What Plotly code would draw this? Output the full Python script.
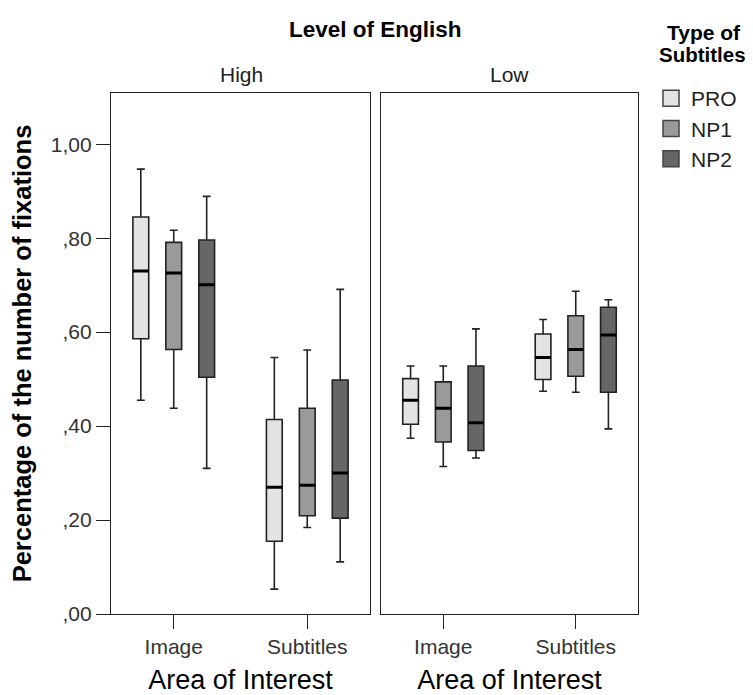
import plotly.graph_objects as go

# ---------------- data ----------------
areas = ["Image", "Subtitles"]
levels = ["High", "Low"]
subtitle_types = ["PRO", "NP1", "NP2"]

# five-number summaries per level, per subtitle type, for [Image, Subtitles]
high_lower = {"PRO": [0.455, 0.053], "NP1": [0.438, 0.184], "NP2": [0.310, 0.111]}
high_q1 = {"PRO": [0.586, 0.155], "NP1": [0.563, 0.209], "NP2": [0.504, 0.204]}
high_median = {"PRO": [0.730, 0.270], "NP1": [0.726, 0.274], "NP2": [0.701, 0.300]}
high_q3 = {"PRO": [0.845, 0.414], "NP1": [0.791, 0.438], "NP2": [0.796, 0.498]}
high_upper = {"PRO": [0.947, 0.546], "NP1": [0.817, 0.562], "NP2": [0.889, 0.691]}

low_lower = {"PRO": [0.374, 0.474], "NP1": [0.314, 0.472], "NP2": [0.332, 0.394]}
low_q1 = {"PRO": [0.404, 0.499], "NP1": [0.366, 0.506], "NP2": [0.348, 0.472]}
low_median = {"PRO": [0.455, 0.546], "NP1": [0.438, 0.563], "NP2": [0.407, 0.594]}
low_q3 = {"PRO": [0.501, 0.596], "NP1": [0.494, 0.635], "NP2": [0.528, 0.653]}
low_upper = {"PRO": [0.528, 0.627], "NP1": [0.528, 0.687], "NP2": [0.607, 0.669]}

y_tick_vals = [0.0, 0.2, 0.4, 0.6, 0.8, 1.0]
y_tick_text = [",00", ",20", ",40", ",60", ",80", "1,00"]

# ---------------- styles ----------------
fills = {"PRO": "#e3e3e3", "NP1": "#9a9a9a", "NP2": "#666666"}
FONT = "Liberation Sans, Arial, sans-serif"

panels = [
    ("x", "y", high_lower, high_q1, high_median, high_q3, high_upper),
    ("x2", "y2", low_lower, low_q1, low_median, low_q3, low_upper),
]

fig = go.Figure()
for xa, ya, lo, q1, med, q3, up in panels:
    for t in subtitle_types:
        fig.add_trace(go.Box(
            x=areas, q1=q1[t], median=med[t], q3=q3[t],
            lowerfence=lo[t], upperfence=up[t],
            name=t, legendgroup=t, showlegend=False,
            offsetgroup=t, alignmentgroup="a" + xa,
            fillcolor=fills[t],
            line=dict(color="#222222", width=1.6),
            whiskerwidth=0.5,
            xaxis=xa, yaxis=ya, hoverinfo="skip",
        ))
    # thick median overlays
    for t in subtitle_types:
        fig.add_trace(go.Box(
            x=areas, q1=med[t], median=med[t], q3=med[t],
            lowerfence=med[t], upperfence=med[t],
            name=t, legendgroup=t, showlegend=False,
            offsetgroup=t, alignmentgroup="a" + xa,
            fillcolor="rgba(0,0,0,0)",
            line=dict(color="black", width=3),
            whiskerwidth=0,
            xaxis=xa, yaxis=ya, hoverinfo="skip",
        ))

# legend-only swatches (square, like the reference legend)
for t in subtitle_types:
    fig.add_trace(go.Scatter(
        x=[None], y=[None], mode="markers", name=t, legendgroup=t,
        marker=dict(symbol="square", size=19, color=fills[t],
                    line=dict(color="#444", width=1.5)),
        xaxis="x", yaxis="y", hoverinfo="skip",
    ))

# page has an 8px body margin: figure coordinates = screen coordinates - 8
OFF = 8
W, H = 753 - OFF, 695 - OFF
PL, PR, PT, PB = 111, 638, 93, 614   # plot frame in screen pixels
L, R, T, B = PL - OFF, W - (PR - OFF), PT - OFF, H - (PB - OFF)
pw = PR - PL
ph = PB - PT


def px(xs):
    return (xs - PL) / pw


def py(ys):
    return (PB - ys) / ph


d1 = [0, px(370)]
d2 = [px(381), 1]

xcommon = dict(
    type="category", categoryorder="array", categoryarray=areas,
    range=[-0.47, 1.47], showline=True, mirror=True, linecolor="#222",
    linewidth=1.2, ticks="outside", ticklen=14, tickcolor="#222",
    tickfont=dict(size=21, color="#333", family=FONT),
    title=dict(text="Area of Interest", font=dict(size=27, color="black", family=FONT), standoff=16),
    showgrid=False, zeroline=False, automargin=False,
)
ycommon = dict(
    range=[0, 1.109], showline=True, mirror=True, linecolor="#222",
    linewidth=1.2, showgrid=False, zeroline=False, automargin=False,
)


def note(text, xs, ys, size, color="black"):
    return dict(text=text, x=px(xs), y=py(ys), xref="paper", yref="paper",
                xanchor="center", yanchor="middle", showarrow=False,
                font=dict(size=size, color=color, family=FONT))


fig.update_layout(
    width=W, height=H,
    margin=dict(l=L, r=R, t=T, b=B, autoexpand=False),
    paper_bgcolor="white", plot_bgcolor="white",
    boxmode="group", boxgap=0.26, boxgroupgap=0.52,
    font=dict(family=FONT, color="black"),
    xaxis=dict(domain=d1, anchor="y", **xcommon),
    xaxis2=dict(domain=d2, anchor="y2", **xcommon),
    yaxis=dict(domain=[0, 1], anchor="x", tickvals=y_tick_vals, ticktext=y_tick_text,
               ticks="outside", ticklen=14, tickcolor="#222",
               tickfont=dict(size=21, color="#333", family=FONT),
               title=dict(text="<b>Percentage of the number of fixations</b>",
                          font=dict(size=25.5, color="black", family=FONT), standoff=16),
               **ycommon),
    yaxis2=dict(domain=[0, 1], anchor="x2", matches="y", showticklabels=False, ticks="",
                **ycommon),
    legend=dict(x=px(651), xanchor="left", y=py(78), yanchor="top",
                font=dict(size=21, color="#222", family=FONT),
                tracegroupgap=0, itemwidth=30, bgcolor="rgba(0,0,0,0)"),
    showlegend=True,
    annotations=[
        note("<b>Level of English</b>", 375, 30, 22.5),
        note("High", 241, 75, 21, "#222"),
        note("Low", 509, 75, 21, "#222"),
        note("<b>Type of</b>", 704, 33, 21),
        note("<b>Subtitles</b>", 702, 55, 20.5),
    ],
)

fig.write_html("out.html")
